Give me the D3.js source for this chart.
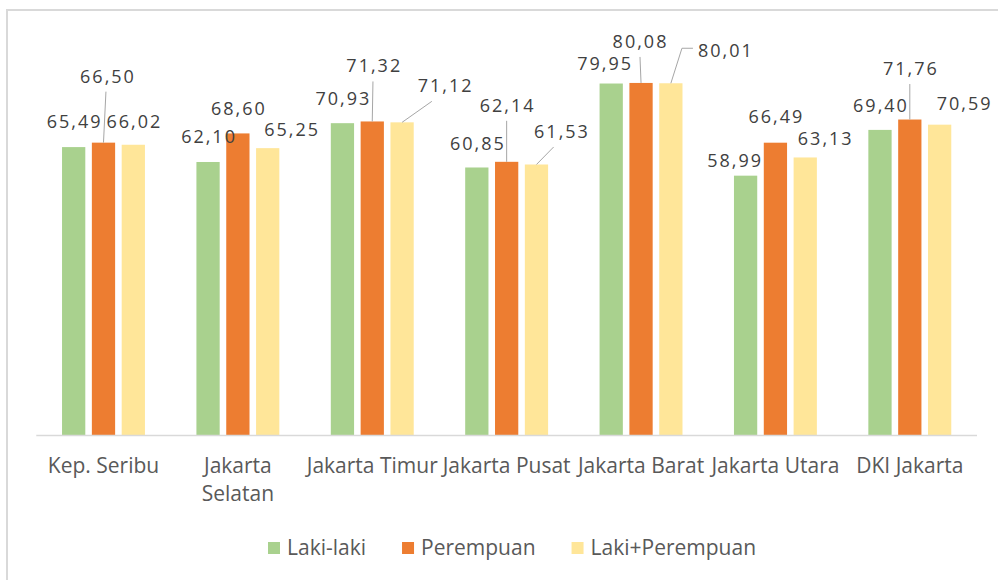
<!DOCTYPE html>
<html>
<head>
<meta charset="utf-8">
<script src="https://cdn.jsdelivr.net/npm/d3@7"></script>
<style>
  html, body { margin: 0; padding: 0; background: #ffffff; }
  svg { display: block; }
</style>
</head>
<body>
<svg id="chart" width="998" height="580"></svg>
<script>
// ---- data ----
const categories = ["Kep. Seribu", "Jakarta Selatan", "Jakarta Timur", "Jakarta Pusat", "Jakarta Barat", "Jakarta Utara", "DKI Jakarta"];
const seriesNames = ["Laki-laki", "Perempuan", "Laki+Perempuan"];
const lakiLaki = [65.49, 62.10, 70.93, 60.85, 79.95, 58.99, 69.40];
const perempuan = [66.50, 68.60, 71.32, 62.14, 80.08, 66.49, 71.76];
const lakiPerempuan = [66.02, 65.25, 71.12, 61.53, 80.01, 63.13, 70.59];

// ---- label layout (nudges relative to bar top, leader type) ----
const nudgeLaki = [[0,-19],[0,-19],[0,-18],[0,-17.5],[-7,-13.5],[-11.5,-8.7],[0,-18]];
const nudgePerempuan = [[3.5,-60,"b"],[0,-18],[1,-49,"b"],[0,-50,"b"],[-1.5,-35,"b"],[0,-19.7],[0,-44.5,"b"]];
const nudgeTotal = [[0,-17],[23.5,-12],[42.5,-30,"b"],[24.5,-26.5,"b"],[54,-26,"s"],[19.5,-12.5],[24,-15]];

const colors = ["#a9d18e", "#ed7d31", "#ffe699"];
const seriesValues = [lakiLaki, perempuan, lakiPerempuan];
const seriesNudges = [nudgeLaki, nudgePerempuan, nudgeTotal];

const svg = d3.select("#chart");

// chart border
svg.append("rect")
  .attr("x", 7).attr("y", 10).attr("width", 1010).attr("height", 600)
  .attr("fill", "#ffffff").attr("stroke", "#d9d9d9").attr("stroke-width", 2);

const x0 = d3.scaleBand().domain(categories).range([36.3, 977])
  .paddingInner(0.383).paddingOuter(0.1915);
const x1 = d3.scaleBand().domain(seriesNames).range([0, x0.bandwidth()])
  .paddingInner(0.22);
const y = d3.scaleLinear().domain([0, 80]).range([435, 83.3]);

// bars
const groups = svg.append("g").selectAll("g")
  .data(categories).join("g")
  .attr("transform", d => `translate(${x0(d)},0)`);

groups.selectAll("rect")
  .data((c, i) => seriesNames.map((s, k) => ({ s, k, v: seriesValues[k][i] })))
  .join("rect")
  .attr("x", d => x1(d.s))
  .attr("y", d => y(d.v))
  .attr("width", x1.bandwidth())
  .attr("height", d => y(0) - y(d.v))
  .attr("fill", d => colors[d.k]);

// baseline axis
const xAxis = d3.axisBottom(x0).tickSize(0).tickPadding(0);
const axisG = svg.append("g").attr("transform", `translate(0,${y(0)})`).call(xAxis);
axisG.select(".domain").attr("stroke", "#d9d9d9").attr("stroke-width", 1.5)
  .attr("d", `M${36.3},0.5H${977}`);
axisG.selectAll(".tick text")
  .attr("font-family", "'Open Sans', sans-serif")
  .attr("font-size", 21)
  .attr("fill", "#595959")
  .attr("y", 38)
  .attr("dy", 0)
  .each(function(d) {
    const t = d3.select(this);
    const full = t.text();
    const w = this.getComputedTextLength();
    if (w > x0.step()) {
      const words = full.split(" ");
      t.text(null);
      words.forEach((wd, i) => {
        t.append("tspan").attr("x", 0).attr("y", 38 + i * 28).text(wd);
      });
    }
  });

// data labels + leader lines
const labelFont = "'Open Sans', sans-serif";
const lblLayer = svg.append("g");
categories.forEach((c, i) => {
  seriesNames.forEach((s, k) => {
    const v = seriesValues[k][i];
    const nd = seriesNudges[k][i];
    const bx = x0(c) + x1(s) + x1.bandwidth() / 2;
    const by = y(v);
    const lx = bx + nd[0];
    const ly = by + nd[1];
    const txt = lblLayer.append("text")
      .attr("x", lx + 1).attr("y", ly)
      .attr("text-anchor", "middle")
      .attr("font-family", labelFont)
      .attr("font-size", 18)
      .attr("letter-spacing", 2)
      .attr("fill", "#404040")
      .text(d3.format(".2f")(v).replace(".", ","));
    const w = txt.node().getComputedTextLength();
    if (nd[2] === "b") {
      const sx = lx + (bx - lx) * 0.3;
      lblLayer.append("path")
        .attr("d", `M${sx},${ly + 9}L${bx},${by}`)
        .attr("stroke", "#a6a6a6").attr("stroke-width", 1).attr("fill", "none");
    } else if (nd[2] === "s") {
      const sx = lx - w / 2 - 4;
      lblLayer.append("path")
        .attr("d", `M${sx},${ly - 9}H${sx - 11}L${bx},${by}`)
        .attr("stroke", "#a6a6a6").attr("stroke-width", 1).attr("fill", "none");
    }
  });
});

// legend
const legend = svg.append("g");
let lxPos = 268;
seriesNames.forEach((s, k) => {
  legend.append("rect")
    .attr("x", lxPos).attr("y", 542).attr("width", 12).attr("height", 12)
    .attr("fill", colors[k]);
  const t = legend.append("text")
    .attr("x", lxPos + 19).attr("y", 555)
    .attr("font-family", "'Open Sans', sans-serif")
    .attr("font-size", 21)
    .attr("fill", "#595959")
    .text(s);
  lxPos += 19 + t.node().getComputedTextLength() + 36;
});
</script>
</body>
</html>
